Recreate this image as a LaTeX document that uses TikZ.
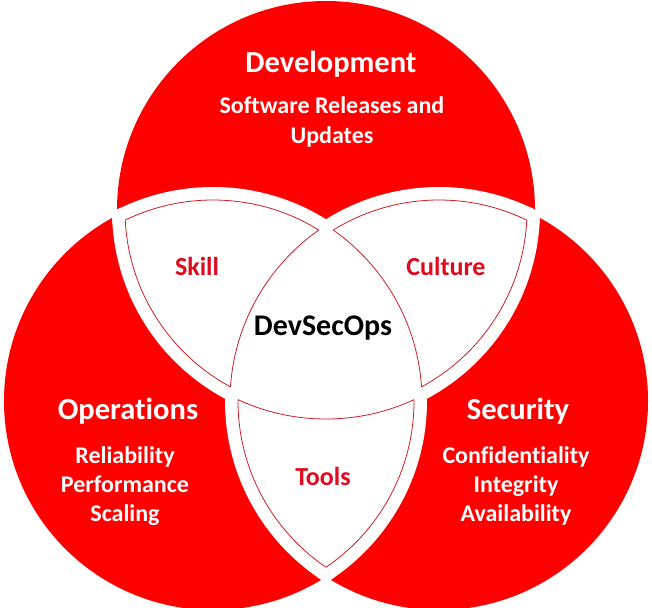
\documentclass[tikz,border=0pt]{standalone}
\usepackage{fontspec}
\setmainfont{Carlito}[Ligatures=NoCommon]
\begin{document}
\begin{tikzpicture}[x=1pt,y=-1pt]
\def\R{209}     % circle radius
\def\Rin{201}   % radius of the inset outlines
\def\Rcut{214}  % reach of the white separating bands
\definecolor{vred}{RGB}{254,0,0}
\definecolor{rimred}{RGB}{205,30,40}
\definecolor{labelred}{RGB}{222,10,30}
\tikzset{
  lobe/.style={fill=vred},
  band/.style={draw=white, line width=10pt},
  rim/.style={draw=rimred, line width=0.8pt},
  head/.style={text=white, font=\bfseries\fontsize{30.5}{34}\selectfont},
  sub/.style={text=white, align=center, font=\bfseries\fontsize{24}{29.3}\selectfont},
  pair/.style={text=labelred, font=\bfseries\fontsize{26}{30}\selectfont},
  core/.style={text=black, font=\bfseries\fontsize{30}{34}\selectfont},
}
% clip to everything outside a circle (frame runs clockwise, circle counterclockwise)
\newcommand\outsideof[2]{\clip (0,0) -- (652,0) -- (652,607) -- (0,607) -- cycle (#1) circle[radius=#2pt];}

\useasboundingbox (0,0) rectangle (652,607);
\fill[white] (0,0) rectangle (652,607);
\clip (0,0) rectangle (652,607);

\coordinate (T) at (326,210);
\coordinate (L) at (213,401);
\coordinate (S) at (439,401);

% the three red discs
\fill[lobe] (T) circle[radius=\R pt];
\fill[lobe] (L) circle[radius=\R pt];
\fill[lobe] (S) circle[radius=\R pt];

% overlaps are white
\begin{scope}
  \clip (T) circle[radius=\R pt];
  \fill[white] (L) circle[radius=\R pt];
  \fill[white] (S) circle[radius=\R pt];
\end{scope}
\begin{scope}
  \clip (L) circle[radius=\R pt];
  \fill[white] (S) circle[radius=\R pt];
\end{scope}

% white bands along every overlap edge
\begin{scope}\clip (L) circle[radius=\Rcut pt]; \draw[band] (T) circle[radius=\R pt];\end{scope}
\begin{scope}\clip (T) circle[radius=\Rcut pt]; \draw[band] (L) circle[radius=\R pt];\end{scope}
\begin{scope}\clip (S) circle[radius=\Rcut pt]; \draw[band] (T) circle[radius=\R pt];\end{scope}
\begin{scope}\clip (T) circle[radius=\Rcut pt]; \draw[band] (S) circle[radius=\R pt];\end{scope}
\begin{scope}\clip (S) circle[radius=\Rcut pt]; \draw[band] (L) circle[radius=\R pt];\end{scope}
\begin{scope}\clip (L) circle[radius=\Rcut pt]; \draw[band] (S) circle[radius=\R pt];\end{scope}

% thin outline of the Skill piece
\begin{scope}[even odd rule]\clip (L) circle[radius=\Rin pt]; \outsideof{S}{\R} \draw[rim] (T) circle[radius=\Rin pt];\end{scope}
\begin{scope}[even odd rule]\clip (T) circle[radius=\Rin pt]; \outsideof{S}{\R} \draw[rim] (L) circle[radius=\Rin pt];\end{scope}
\begin{scope}\clip (T) circle[radius=\Rin pt]; \clip (L) circle[radius=\Rin pt]; \draw[rim] (S) circle[radius=\R pt];\end{scope}

% thin outline of the Culture piece
\begin{scope}[even odd rule]\clip (S) circle[radius=\Rin pt]; \outsideof{L}{\R} \draw[rim] (T) circle[radius=\Rin pt];\end{scope}
\begin{scope}[even odd rule]\clip (T) circle[radius=\Rin pt]; \outsideof{L}{\R} \draw[rim] (S) circle[radius=\Rin pt];\end{scope}
\begin{scope}\clip (T) circle[radius=\Rin pt]; \clip (S) circle[radius=\Rin pt]; \draw[rim] (L) circle[radius=\R pt];\end{scope}

% thin outline of the Tools piece
\begin{scope}[even odd rule]\clip (S) circle[radius=\Rin pt]; \outsideof{T}{\R} \draw[rim] (L) circle[radius=\Rin pt];\end{scope}
\begin{scope}[even odd rule]\clip (L) circle[radius=\Rin pt]; \outsideof{T}{\R} \draw[rim] (S) circle[radius=\Rin pt];\end{scope}
\begin{scope}\clip (L) circle[radius=\Rin pt]; \clip (S) circle[radius=\Rin pt]; \draw[rim] (T) circle[radius=\R pt];\end{scope}

% labels
\node[head] (dev) at (331,64) {Development};
\node[sub] (devsub) at (332,122) {Software Releases and\\Updates};
\node[head] (ops) at (128,411) {Operations};
\node[sub] (opssub) at (125,486) {Reliability\\Performance\\Scaling};
\node[head] (sec) at (518,411) {Security};
\node[sub] (secsub) at (516,486) {Confidentiality\\Integrity\\Availability};
\node[pair] (skill) at (197,266) {Skill};
\node[pair] (culture) at (446,266) {Culture};
\node[pair] (tools) at (323,476) {Tools};
\node[core] (core) at (323,328) {DevSecOps};
\end{tikzpicture}
\end{document}
